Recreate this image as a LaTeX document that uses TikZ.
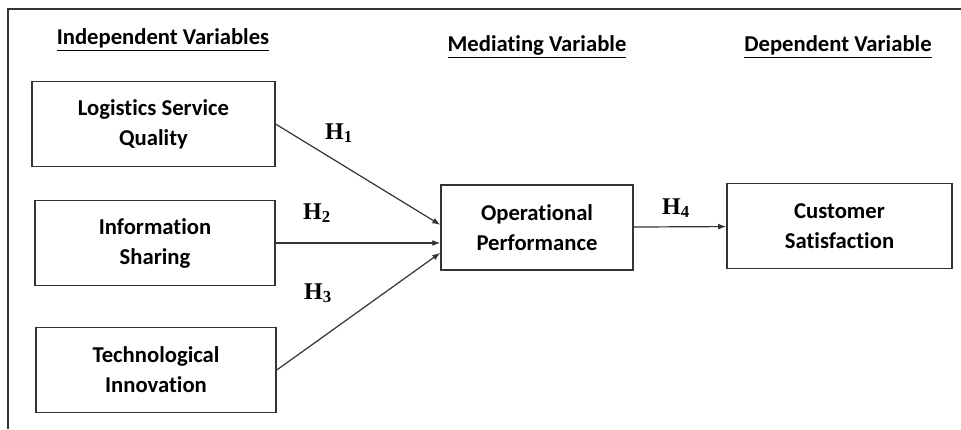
\documentclass[tikz,border=0pt]{standalone}
\usepackage{fontspec}
\usepackage{tikz}
\usetikzlibrary{
arrows.meta,
positioning
}
\setsansfont{Carlito}[Ligatures=NoCommon]
\newfontfamily\hypfont{Liberation Serif}
\definecolor{framegray}{HTML}{333333}

\begin{document}
\begin{tikzpicture}[
x=0.75pt, y=-0.75pt,
varbox/.style={
rectangle,
draw=framegray,
line width=1.1pt,
fill=white,
minimum height=64pt,
align=center,
font=\sffamily\bfseries\fontsize{17}{22.5}\selectfont
},
heading/.style={
font=\sffamily\bfseries\fontsize{17}{20}\selectfont
},
hyp/.style={
font=\hypfont\bfseries\fontsize{18}{20}\selectfont
},
arrow/.style={-{Latex[length=6pt,width=4.5pt]},line width=0.9pt,draw=framegray}
]

\useasboundingbox (0,0) rectangle (961,429);
\draw[line width=1.1pt,draw=framegray] (8,429) -- (8,9) -- (961,9);

% headings
\node[heading] (indep) at (163,40) {\underline{Independent Variables}};
\node[heading] (medi) at (537,47) {\underline{Mediating Variable}};
\node[heading] (dep) at (838,47) {\underline{Dependent Variable}};

% variables
\node[varbox, minimum width=182pt] (lsq) at (153.5,124)
{Logistics Service\\Quality};
\node[varbox, minimum width=180pt] (info) at (155,243)
{Information\\Sharing};
\node[varbox, minimum width=180pt] (tech) at (156,370)
{Technological\\Innovation};
\node[varbox, minimum width=144pt] (op) at (537,227.5)
{Operational\\Performance};
\node[varbox, minimum width=169pt] (cs) at (839.5,226)
{Customer\\Satisfaction};

\coordinate (in1) at ([yshift=2pt]op.west);
\coordinate (in3) at ([yshift=-19pt]op.west);

\draw[arrow] (lsq.east) -- (in1);
\draw[arrow] (info.east) -- (info.east -| op.west);
\draw[arrow] (tech.east) -- (in3);
\draw[arrow] (op) -- (cs);

% hypotheses
\node[hyp] (h1) at (339,133) {H\textsubscript{1}};
\node[hyp] (h2) at (317,213) {H\textsubscript{2}};
\node[hyp] (h3) at (318,293) {H\textsubscript{3}};
\node[hyp] (h4) at (676,208) {H\textsubscript{4}};

\end{tikzpicture}
\end{document}
